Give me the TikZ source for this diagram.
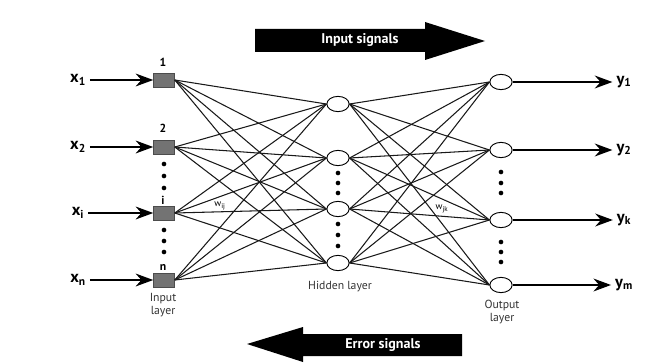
\documentclass[tikz,border=0pt]{standalone}
\usepackage{fontspec}
\setmainfont{PT Sans}
\usetikzlibrary{shapes.geometric,arrows.meta}
\tikzset{
  inbox/.style={rectangle,fill=black!55,draw=black!70,minimum width=18pt,minimum height=12pt,inner sep=0pt},
  neuron/.style={ellipse,draw=black,thick,fill=white,minimum width=19pt,minimum height=13pt,inner sep=0pt},
  link/.style={draw=black!90,line width=0.9pt},
  feed/.style={line width=1.2pt,-{Stealth[length=15pt,width=11pt]}},
  lbl/.style={font=\fontsize{14}{14}\selectfont\bfseries},
  layername/.style={font=\fontsize{10}{11}\selectfont,align=center,text=black!80},
  dot/.style={circle,fill=black,inner sep=0pt,minimum size=4pt}
}
\begin{document}
\begin{tikzpicture}[x=0.3mm,y=-0.3mm]
\useasboundingbox (0,0) rectangle (669,363);
% signal arrows
\fill (255,29) -- (425,29) -- (425,22) -- (485,41) -- (425,60) -- (425,52) -- (255,52) -- cycle;
\node[text=white,font=\fontsize{12}{13}\selectfont\bfseries] (insig) at (360,40) {Input signals};
\fill (462,334) -- (303,334) -- (303,327) -- (247,344) -- (303,362) -- (303,356) -- (462,356) -- cycle;
\node[text=white,font=\fontsize{12}{13}\selectfont\bfseries] (errsig) at (383,345) {Error signals};
% input layer
\node[inbox] (i1) at (164,80) {};
\node[inbox] (i2) at (164,147) {};
\node[inbox] (i3) at (164,213) {};
\node[inbox] (i4) at (164,280) {};
\node[font=\bfseries] (n1) at (163,62) {1};
\node[font=\bfseries] (n2) at (163,128) {2};
\node[font=\bfseries] (n3) at (163,200) {i};
\node[font=\bfseries] (n4) at (163,267) {n};
% hidden layer
\node[neuron] (h1) at (338,104) {};
\node[neuron] (h2) at (338,158) {};
\node[neuron] (h3) at (338,209) {};
\node[neuron] (h4) at (338,263) {};
% output layer
\node[neuron] (o1) at (501,82) {};
\node[neuron] (o2) at (501,150) {};
\node[neuron] (o3) at (501,220) {};
\node[neuron] (o4) at (501,285) {};
% weights
\foreach \a in {1,...,4}{
  \foreach \b in {1,...,4}{
    \draw[link] (i\a.east) -- (h\b.west);
    \draw[link] (h\a.east) -- (o\b.west);
  }
}
\node[fill=white,inner sep=0.5pt,font=\footnotesize] (wij) at (220,206) {w\textsubscript{ij}};
\node[fill=white,inner sep=0.5pt,font=\footnotesize] (wjk) at (442,209) {w\textsubscript{jk}};
% dots
\foreach \y in {164,176,188,230,241,252}
  \node[dot] at (164,\y) {};
\foreach \y in {173,183,193,224,235,246}
  \node[dot] at (338,\y) {};
\foreach \y in {172,183,193,242,252,262}
  \node[dot] at (501,\y) {};
% inputs and outputs
\node[lbl] (x1) at (78,80) {x\textsubscript{1}};
\node[lbl] (x2) at (78,147) {x\textsubscript{2}};
\node[lbl] (x3) at (78,213) {x\textsubscript{i}};
\node[lbl] (x4) at (78,280) {x\textsubscript{n}};
\foreach \k in {1,...,4}
  \draw[feed] (x\k.east) -- (i\k.west);
\node[lbl] (y1) at (624,82) {y\textsubscript{1}};
\node[lbl] (y2) at (624,150) {y\textsubscript{2}};
\node[lbl] (y3) at (624,220) {y\textsubscript{k}};
\node[lbl] (y4) at (624,285) {y\textsubscript{m}};
\foreach \k in {1,...,4}
  \draw[feed] (o\k.east) -- (y\k.west);
% layer names
\node[layername] (inname) at (163,305) {Input\\layer};
\node[layername] (hidname) at (340,287) {Hidden layer};
\node[layername] (outname) at (502,312) {Output\\layer};
\end{tikzpicture}
\end{document}
